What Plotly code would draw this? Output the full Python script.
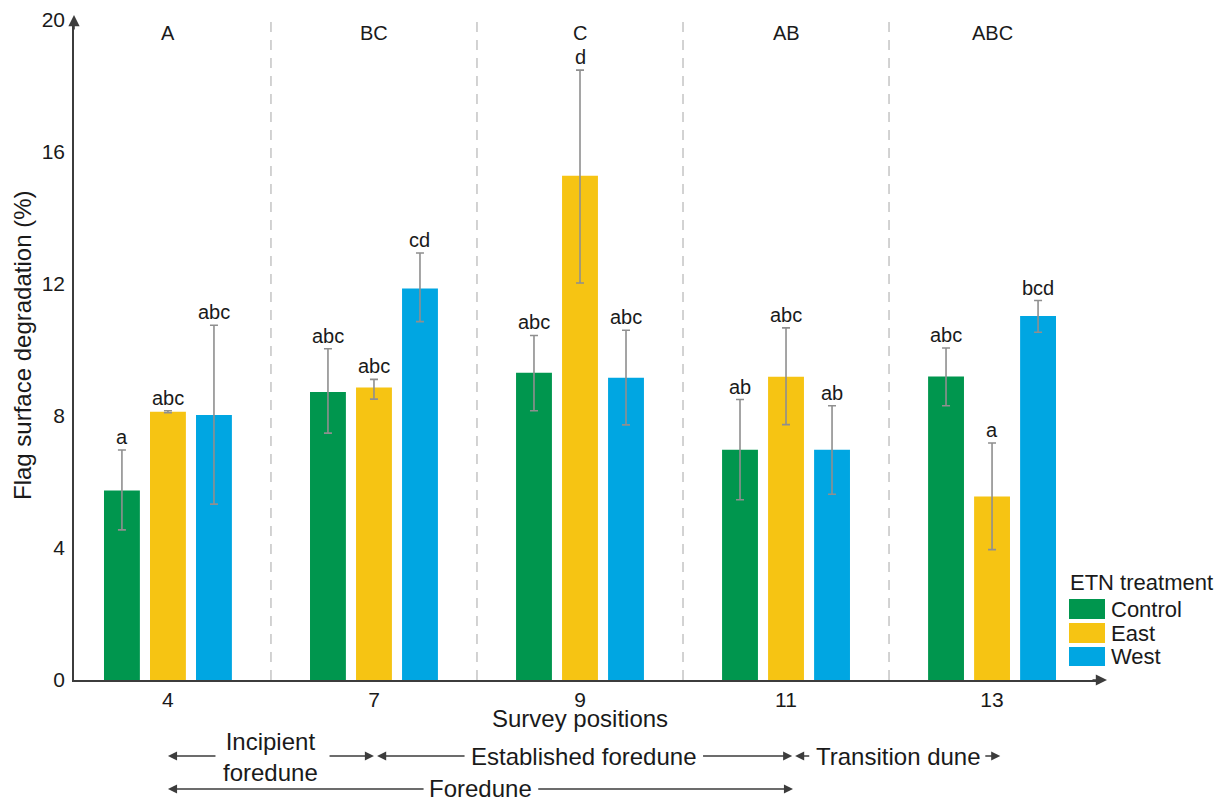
import plotly.graph_objects as go

# ---------------- data ----------------
positions = ["4", "7", "9", "11", "13"]
treatments = ["Control", "East", "West"]

control = [5.74, 8.73, 9.31, 6.98, 9.20]
control_hi = [6.97, 10.04, 10.44, 8.50, 10.06]
control_lo = [4.55, 7.48, 8.16, 5.46, 8.31]

east = [8.13, 8.86, 15.28, 9.19, 5.56]
east_hi = [8.16, 9.11, 18.48, 10.67, 7.18]
east_lo = [8.10, 8.51, 12.03, 7.74, 3.95]

west = [8.03, 11.86, 9.16, 6.98, 11.03]
west_hi = [10.75, 12.94, 10.60, 8.31, 11.50]
west_lo = [5.33, 10.86, 7.73, 5.63, 10.54]

control_letters = ["a", "abc", "abc", "ab", "abc"]
east_letters = ["abc", "abc", "d", "abc", "a"]
west_letters = ["abc", "cd", "abc", "ab", "bcd"]
group_letters = ["A", "BC", "C", "AB", "ABC"]

y_ticks = [0, 4, 8, 12, 16, 20]

# ---------------- style ----------------
colors = {"Control": "#00964E", "East": "#F6C413", "West": "#00A6E2"}
FONT = "Liberation Sans, Arial, sans-serif"
TXT = "#1a1a1a"
AX = "#3c3c3c"
OFF = 8  # default page body margin
W, H = 1230 - OFF, 805 - OFF
L, R, T, B = 74 - OFF, 130, 20 - OFF, 125
BARGAP, GROUPGAP = 0.33, 0.22

series = {
    "Control": (control, control_hi, control_lo, control_letters),
    "East": (east, east_hi, east_lo, east_letters),
    "West": (west, west_hi, west_lo, west_letters),
}

xs = list(range(len(positions)))
fig = go.Figure()
for name in treatments:
    vals, hi, lo, _ = series[name]
    fig.add_trace(go.Bar(
        x=xs, y=vals, name=name, marker=dict(color=colors[name], line=dict(width=0)),
        error_y=dict(type="data", symmetric=False,
                     array=[h - v for h, v in zip(hi, vals)],
                     arrayminus=[v - l for v, l in zip(vals, lo)],
                     color="#8f8f8f", thickness=1.6, width=4),
        showlegend=False,
    ))

annotations = []
slot = (1 - BARGAP) / 3
for k, name in enumerate(treatments):
    vals, hi, lo, letters = series[name]
    for i, (h, lt) in enumerate(zip(hi, letters)):
        annotations.append(dict(x=i + (k - 1) * slot, y=h, xref="x", yref="y", text=lt,
                                showarrow=False, yanchor="bottom", xanchor="center", yshift=0,
                                font=dict(family=FONT, size=20, color=TXT)))
pw = W - L - R
ph = H - T - B


def px_x(p):  # screen pixel -> paper
    return (p - OFF - L) / pw


def px_y(p):
    return (H - B - (p - OFF)) / ph


for i, g in enumerate(group_letters):
    annotations.append(dict(x=i, y=px_y(33), xref="x", yref="paper", text=g, showarrow=False,
                            yanchor="middle", xanchor="center",
                            font=dict(family=FONT, size=20, color=TXT)))

# axis arrows
annotations.append(dict(x=0, y=px_y(15), xref="paper", yref="paper", ax=0, ay=16,
                        text="", showarrow=True, arrowhead=2, arrowsize=1.4, arrowwidth=1.6,
                        arrowcolor=AX, standoff=0))
annotations.append(dict(x=px_x(1107), y=0, xref="paper", yref="paper", ax=-16, ay=0,
                        text="", showarrow=True, arrowhead=2, arrowsize=1.4, arrowwidth=1.6,
                        arrowcolor=AX, standoff=0))

# axis titles
annotations.append(dict(x=px_x(22), y=px_y(345), xref="paper", yref="paper",
                        text="Flag surface degradation (%)", textangle=-90, showarrow=False,
                        xanchor="center", yanchor="middle",
                        font=dict(family=FONT, size=24, color=TXT)))
annotations.append(dict(x=2.0, y=px_y(718), xref="x", yref="paper", text="Survey positions",
                        showarrow=False, xanchor="center", yanchor="middle",
                        font=dict(family=FONT, size=24, color=TXT)))

# zone brackets below axis
row1 = px_y(756)
row2 = px_y(789)
arrows = [  # (tail, tip, row) in category units
    (0.238, 0.0, row1), (0.777, 1.0, row1), (1.447, 1.015, row1), (2.59, 3.03, row1),
    (3.12, 3.044, row1), (3.96, 4.04, row1), (1.248, 0.0, row2), (1.79, 3.034, row2),
]
for tail, tip, yy in arrows:
    annotations.append(dict(x=tip, y=yy, xref="x", yref="paper", ax=tail, axref="x",
                            ay=0, ayref="pixel", text="", showarrow=True, arrowhead=2,
                            arrowsize=1.3, arrowwidth=1.4, arrowcolor=AX, standoff=0))
zone_labels = [(0.5, "Incipient<br>foredune", px_y(757)), (2.02, "Established foredune", row1),
               (3.544, "Transition dune", row1), (1.515, "Foredune", row2)]
for xx, t, yy in zone_labels:
    annotations.append(dict(x=xx, y=yy, xref="x", yref="paper", text=t, showarrow=False,
                            xanchor="center", yanchor="middle",
                            font=dict(family=FONT, size=24, color=TXT)))

# legend (drawn manually)
shapes = []
annotations.append(dict(x=px_x(1068), y=px_y(582), xref="paper", yref="paper",
                        text="ETN treatment", showarrow=False, xanchor="left", yanchor="middle",
                        font=dict(family=FONT, size=22, color=TXT)))
leg_rows = [(599, 619), (623, 643), (647, 666)]
for name, (y0, y1) in zip(treatments, leg_rows):
    shapes.append(dict(type="rect", xref="paper", yref="paper", x0=px_x(1069), x1=px_x(1105),
                       y0=px_y(y1), y1=px_y(y0), fillcolor=colors[name], line=dict(width=0)))
    annotations.append(dict(x=px_x(1109), y=px_y((y0 + y1) / 2), xref="paper", yref="paper",
                            text=name, showarrow=False, xanchor="left", yanchor="middle",
                            font=dict(family=FONT, size=22, color=TXT)))

# dashed separators
for i in range(len(positions) - 1):
    shapes.append(dict(type="line", xref="x", yref="paper", x0=i + 0.5, x1=i + 0.5,
                       y0=0, y1=px_y(22), line=dict(color="#c4c4c4", width=1.5, dash="10px,8px"),
                       layer="below"))

fig.update_layout(
    width=W, height=H, margin=dict(l=L, r=R, t=T, b=B, autoexpand=False),
    plot_bgcolor="white", paper_bgcolor="white",
    barmode="group", bargap=BARGAP, bargroupgap=GROUPGAP,
    font=dict(family=FONT, color=TXT),
    xaxis=dict(range=[-0.456, 4.524], tickmode="array", tickvals=xs, ticktext=positions,
               showgrid=False, zeroline=False, showline=True, linecolor=AX, linewidth=1.6,
               ticks="", tickfont=dict(size=21, color=TXT), ticklabelstandoff=0,
               automargin=False),
    yaxis=dict(range=[0, 20], tickmode="array", tickvals=y_ticks, showgrid=False,
               zeroline=False, showline=True, linecolor=AX, linewidth=1.6, ticks="",
               tickfont=dict(size=21, color=TXT), ticklabelstandoff=3, automargin=False),
    annotations=annotations, shapes=shapes,
)

fig.write_html("out.html")
